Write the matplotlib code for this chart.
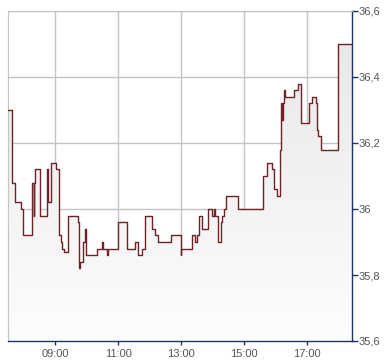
import numpy as np
import matplotlib.pyplot as plt
from matplotlib.patches import Polygon
from matplotlib.colors import LinearSegmentedColormap

# intraday price, step changes (time, price)
times = ["07:30", "07:38", "07:43", "07:54", "07:59", "08:16", "08:19", "08:20",
         "08:22", "08:30", "08:45", "08:46", "08:51", "08:52", "09:01", "09:08",
         "09:11", "09:13", "09:17", "09:25", "09:43", "09:45", "09:47", "09:53",
         "09:57", "09:59", "10:19", "10:29", "10:30", "10:39", "10:40", "11:00",
         "11:17", "11:32", "11:38", "11:45", "11:50", "12:04", "12:10", "12:16",
         "12:40", "12:59", "13:00", "13:20", "13:27", "13:30", "13:34", "13:40",
         "13:50", "13:59", "14:02", "14:04", "14:10", "14:15", "14:17", "14:21",
         "14:26", "14:47", "15:36", "15:44", "15:53", "15:57", "16:02", "16:07",
         "16:09", "16:10", "16:11", "16:14", "16:16", "16:18", "16:35", "16:42",
         "16:48", "17:04", "17:08", "17:16", "17:18", "17:21", "17:26", "17:59"]
prices = [36.30, 36.08, 36.02, 36.00, 35.92, 36.08, 35.98, 36.08,
          36.12, 35.98, 36.12, 36.02, 36.06, 36.14, 36.12, 35.92,
          35.90, 35.88, 35.87, 35.98, 35.96, 35.82, 35.84, 35.90,
          35.94, 35.86, 35.88, 35.90, 35.88, 35.86, 35.88, 35.96,
          35.88, 35.90, 35.86, 35.88, 35.98, 35.94, 35.92, 35.90,
          35.92, 35.86, 35.88, 35.92, 35.90, 35.92, 35.98, 35.94,
          36.00, 35.98, 36.00, 35.98, 35.90, 35.96, 35.98, 36.00,
          36.04, 36.00, 36.10, 36.14, 36.12, 36.06, 36.04, 36.18,
          36.27, 36.32, 36.27, 36.32, 36.36, 36.34, 36.36, 36.38,
          36.26, 36.32, 36.34, 36.32, 36.24, 36.22, 36.18, 36.50]
end_time = "18:25"

x_ticks = ["09:00", "11:00", "13:00", "15:00", "17:00"]
y_ticks = [35.6, 35.8, 36.0, 36.2, 36.4, 36.6]
y_tick_labels = ["35,6", "35,8", "36", "36,2", "36,4", "36,6"]


def to_hours(s):
    h, m = s.split(":")
    return int(h) + int(m) / 60


x = np.array([to_hours(t) for t in times] + [to_hours(end_time)])
y = np.array(prices + [prices[-1]])

fig = plt.figure(figsize=(3.9, 3.64), dpi=100)
ax = fig.add_axes([8 / 390, 1 - 341 / 364, 344 / 390, 330 / 364])
ax.set_xlim(7.5, to_hours(end_time))
ax.set_ylim(35.6, 36.6)

# gradient fill under the step line
xs = np.repeat(x, 2)[1:]
ys = np.repeat(y, 2)[:-1]
verts = np.column_stack([np.r_[xs, xs[-1], xs[0]], np.r_[ys, 35.6, 35.6]])
poly = Polygon(verts, closed=True, facecolor="none", edgecolor="none")
ax.add_patch(poly)
grad = np.linspace(0, 1, 256).reshape(-1, 1)
cmap = LinearSegmentedColormap.from_list("g", ["#fdfdfd", "#e6e6e6"])
img = ax.imshow(grad, extent=[7.5, to_hours(end_time), 35.6, 36.6], origin="lower",
                aspect="auto", cmap=cmap, zorder=1)
img.set_clip_path(poly)

ax.step(x, y, where="post", color="#6e2228", lw=1.0, zorder=3)

ax.set_xticks([to_hours(t) for t in x_ticks])
ax.set_xticklabels(x_ticks)
ax.set_yticks(y_ticks)
ax.set_yticklabels(y_tick_labels)
ax.yaxis.tick_right()
ax.grid(True, color="#c4c4c4", lw=1, zorder=0)
ax.set_axisbelow(True)

for side in ["left", "top"]:
    ax.spines[side].set_color("#c4c4c4")
for side in ["right", "bottom"]:
    ax.spines[side].set_color("#1c3461")
    ax.spines[side].set_linewidth(1.0)

ax.tick_params(axis="x", length=3, width=1, color="#1c3461", pad=3,
               labelsize=8, labelcolor="#555555")
ax.tick_params(axis="y", length=4, width=1, color="#1c3461", pad=1,
               labelsize=8, labelcolor="#555555")
for lab in ax.get_xticklabels() + ax.get_yticklabels():
    lab.set_family("Liberation Sans")

fig.savefig("out.png", dpi=100)
